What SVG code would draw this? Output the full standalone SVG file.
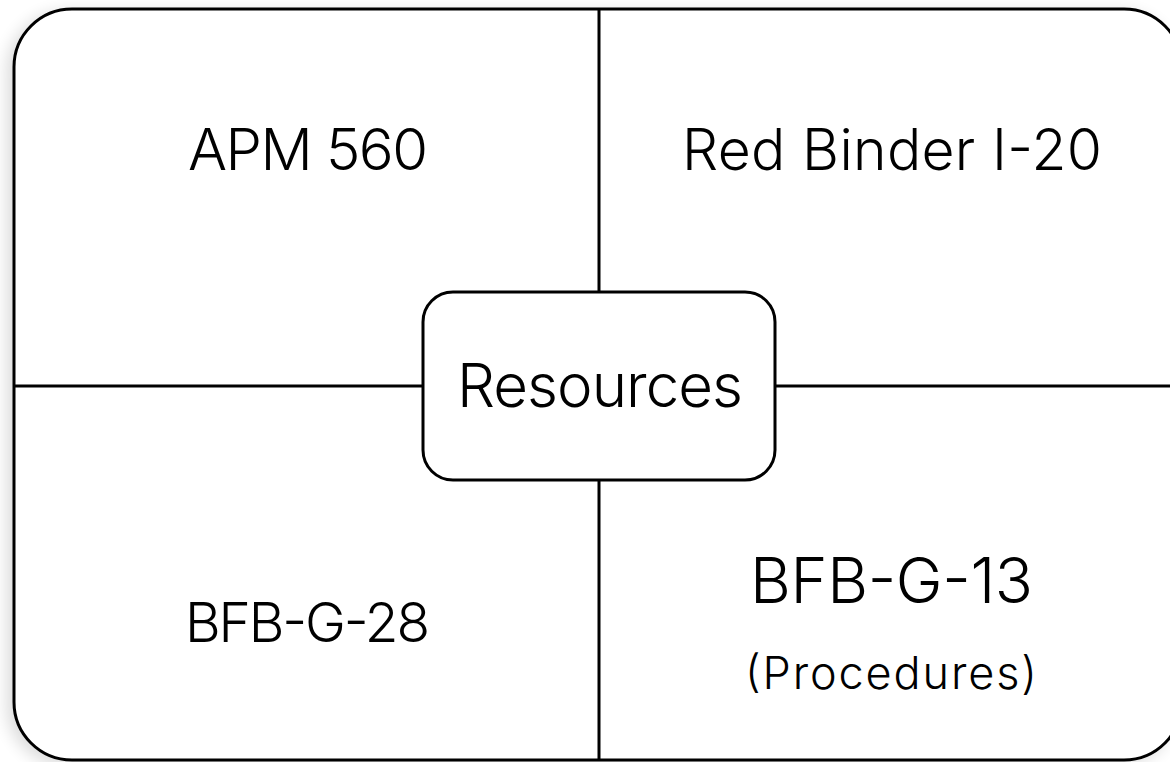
<svg xmlns="http://www.w3.org/2000/svg" width="1170" height="762" viewBox="0 0 1170 762">
  <style>
    .frame { fill: #ffffff; stroke: #000000; stroke-width: 3; }
    .line { stroke: #000000; stroke-width: 3; fill: none; }
    .lbl { font-family: Inter, "DejaVu Sans", "Liberation Sans", sans-serif; font-weight: 300; fill: #000000; text-anchor: middle; }
  </style>
  <defs>
    <filter id="shadow" x="-5%" y="-5%" width="110%" height="112%">
      <feGaussianBlur in="SourceAlpha" stdDeviation="8"/>
      <feOffset dx="-6" dy="4" result="b"/>
      <feComponentTransfer><feFuncA type="linear" slope="0.14"/></feComponentTransfer>
      <feMerge><feMergeNode/><feMergeNode in="SourceGraphic"/></feMerge>
    </filter>
  </defs>
  <rect width="1170" height="762" fill="#ffffff"/>
  <g id="frame">
    <rect class="frame" x="14" y="9" width="1168" height="751" rx="58" ry="58" filter="url(#shadow)"/>
  </g>
  <g id="connectors">
    <line class="line" x1="599" y1="9" x2="599" y2="760"/>
    <line class="line" x1="14" y1="386" x2="1182" y2="386"/>
  </g>
  <g id="apm560">
    <text class="lbl" x="308" y="170" font-size="58" textLength="240">APM 560</text>
  </g>
  <g id="redbinder">
    <text class="lbl" x="892" y="170" font-size="57" textLength="420">Red Binder I-20</text>
  </g>
  <g id="bfbg28">
    <text class="lbl" x="307.5" y="642" font-size="55" textLength="245">BFB-G-28</text>
  </g>
  <g id="bfbg13">
    <text class="lbl" x="891.5" y="603" font-size="63" textLength="283">BFB-G-13</text>
    <text class="lbl" x="891" y="689" font-size="45" textLength="292">(Procedures)</text>
  </g>
  <g id="resources">
    <rect class="frame" x="423" y="292" width="352" height="188" rx="30" ry="30"/>
    <text class="lbl" x="600" y="407" font-size="60" textLength="286">Resources</text>
  </g>
</svg>
